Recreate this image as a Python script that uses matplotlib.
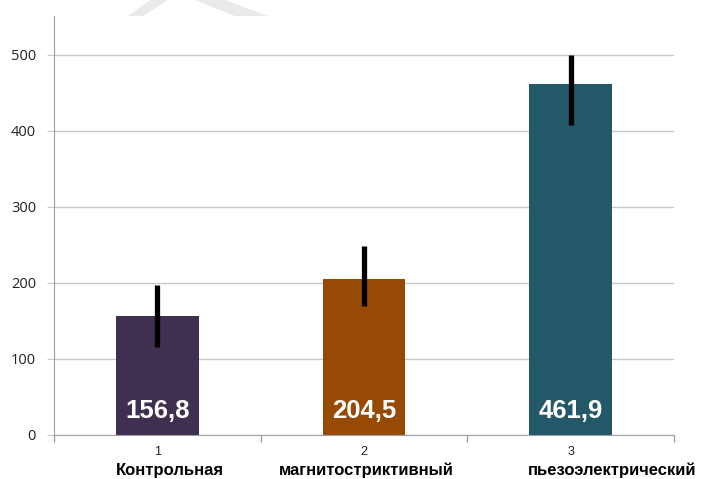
import matplotlib
matplotlib.use("Agg")
import matplotlib.pyplot as plt
from matplotlib.patches import Polygon
import numpy as np

categories = ["Контрольная", "магнитострикти вный".replace(" ", ""), "пьезоэлектрический"]
numbers = ["1", "2", "3"]
values = [156.8, 204.5, 461.9]
value_labels = ["156,8", "204,5", "461,9"]
err_low = [116.0, 170.0, 408.0]
err_high = [197.0, 248.0, 500.0]
colors = ["#3F3051", "#974A04", "#225868"]
yticks = [0, 100, 200, 300, 400, 500]

W, H = 725, 479
fig = plt.figure(figsize=(7.25, 4.79), dpi=100)

# faint background watermark at the top edge
for pts in ([(150, 0), (168, 0), (143, 16), (128, 16)],
            [(195, 0), (225, 0), (268, 16), (235, 16)]):
    fig.patches.append(Polygon([(px / W, 1 - py / H) for px, py in pts],
                               closed=True, transform=fig.transFigure,
                               facecolor="#EAEAEA", edgecolor="none"))

ax = fig.add_axes([54/W, 1-435/H, (674-54)/W, (435-16)/H])
ax.patch.set_alpha(0)

x = np.arange(len(values))
ax.set_axisbelow(True)
ax.bar(x, values, width=0.4, color=colors, zorder=2)
ax.vlines(x, err_low, err_high, colors="black", linewidth=3.8, zorder=3)

for xi, lbl in zip(x, value_labels):
    ax.text(xi, 31, lbl, ha="center", va="center", color="white",
            fontsize=18.5, fontweight="bold", family="Liberation Sans", zorder=4)

ax.set_xlim(-0.5, 2.5)
ax.set_ylim(0, 551)
ax.set_yticks(yticks)
ax.set_yticklabels([str(v) for v in yticks], family="Open Sans", fontsize=10.5, color="#222222")
ax.yaxis.grid(True, color="#C8C8C8", linewidth=1)
ax.tick_params(axis="y", length=5, color="#C8C8C8", pad=8)

ax.set_xticks(x)
ax.set_xticklabels(numbers, family="Liberation Sans", fontsize=9, color="#222222")
ax.tick_params(axis="x", which="major", length=0, pad=8)
ax.set_xticks([-0.5, 0.5, 1.5, 2.5], minor=True)
ax.tick_params(axis="x", which="minor", length=5, color="#A0A0A0", width=1)

for s in ["top", "right"]:
    ax.spines[s].set_visible(False)
ax.spines["left"].set_color("#A0A0A0")
ax.spines["bottom"].set_color("#A0A0A0")

offsets = [0.06, 0.01, 0.2]
for xi, name, off in zip(x, categories, offsets):
    ax.text(xi + off, -(478 - 435) / 419, name, transform=ax.get_xaxis_transform(),
            ha="center", va="bottom", fontsize=12, fontweight="bold",
            family="Liberation Sans", color="black", clip_on=False)

fig.savefig("out.png", dpi=100)
